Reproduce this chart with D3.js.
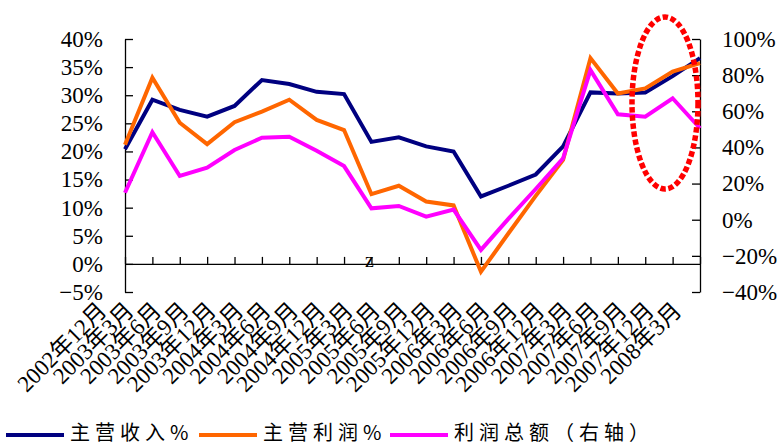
<!DOCTYPE html>
<html>
<head>
<meta charset="utf-8">
<script src="https://cdn.jsdelivr.net/npm/d3@7"></script>
<style>
  body { margin: 0; background: #fff; }
  svg { display: block; }
</style>
</head>
<body>
<svg id="chart" width="779" height="445"></svg>
<script>
// Quarter labels
const categories = [
  "2002年12月", "2003年3月", "2003年6月", "2003年9月", "2003年12月",
  "2004年3月", "2004年6月", "2004年9月", "2004年12月",
  "2005年3月", "2005年6月", "2005年9月", "2005年12月",
  "2006年3月", "2006年6月", "2006年9月", "2006年12月",
  "2007年3月", "2007年6月", "2007年9月", "2007年12月", "2008年3月"
];

// 主营收入 growth, % (left axis)
const revenue = [20.4, 29.2, 27.4, 26.2, 28.1, 32.7, 32.0, 30.6, 30.2, 21.7, 22.5,
                 20.9, 20.0, 12.0, 13.9, 15.9, 20.9, 30.5, 30.3, 30.5, 33.4, 36.6];

// 主营利润 growth, % (left axis)
const profit = [21.2, 33.1, 25.1, 21.3, 25.2, 27.1, 29.2, 25.6, 23.8, 12.4, 13.9,
                11.1, 10.4, -1.4, 5.4, 12.1, 18.5, 36.6, 30.3, 31.2, 34.2, 35.7];

// 利润总额 growth, % (right axis)
const totalProfit = [14.9, 48.4, 24.2, 28.8, 38.6, 45.4, 45.9, 38.2, 29.7, 6.3, 7.6,
                     1.7, 5.6, -16.7, 0.5, 17.0, 34.0, 82.8, 58.3, 57.0, 67.2, 50.6];

const leftTicks = [-5, 0, 5, 10, 15, 20, 25, 30, 35, 40];
const rightTicks = [-40, -20, 0, 20, 40, 60, 80, 100];
const seriesNames = ["主营收入%", "主营利润%", "利润总额（右轴）"];

// ---- layout ----
const svg = d3.select("#chart");
const plot = { left: 125, right: 700, top: 39, bottom: 292 };
const serif = "'Liberation Serif', 'Times New Roman', 'Noto Sans CJK SC', serif";
const cjk = "'Noto Sans CJK SC', sans-serif";
const colors = ["#000080", "#ff6600", "#ff00ff"];

const x = d3.scalePoint().domain(categories).range([plot.left, plot.right]);
const yL = d3.scaleLinear().domain([-5, 40]).range([plot.bottom, plot.top]);
const yR = d3.scaleLinear().domain([-40, 100]).range([plot.bottom, plot.top]);

const pct = v => (v < 0 ? "\u2212" : "") + Math.abs(v) + "%";

// left value axis
const gL = svg.append("g")
  .attr("transform", `translate(${plot.left},0)`)
  .call(d3.axisLeft(yL).tickValues(leftTicks).tickFormat(pct)
    .tickSizeInner(-8).tickSizeOuter(0).tickPadding(22));

// right value axis
const gR = svg.append("g")
  .attr("transform", `translate(${plot.right},0)`)
  .call(d3.axisRight(yR).tickValues(rightTicks).tickFormat(pct)
    .tickSizeInner(-8).tickSizeOuter(0).tickPadding(22));

[gL, gR].forEach(g => {
  g.selectAll("path.domain").attr("stroke", "#000").attr("stroke-width", 1.3);
  g.selectAll(".tick line").attr("stroke", "#000").attr("stroke-width", 1.3);
  g.selectAll(".tick text")
    .attr("font-family", serif).attr("font-size", 23).attr("fill", "#000");
});

// category axis crossing at 0
const gX = svg.append("g")
  .attr("transform", `translate(0,${yL(0)})`)
  .call(d3.axisBottom(x).tickSizeInner(-7).tickSizeOuter(0).tickFormat(""));
gX.selectAll("path.domain").attr("stroke", "#000").attr("stroke-width", 1.3);
gX.selectAll(".tick line").attr("stroke", "#000").attr("stroke-width", 1.3);

// stray axis mark
svg.append("text")
  .attr("x", x(categories[9]) - 2).attr("y", yL(0) + 3)
  .attr("text-anchor", "middle")
  .attr("font-family", serif).attr("font-size", 20)
  .text("z");

// rotated category labels below the plot
svg.append("g").selectAll("text")
  .data(categories)
  .join("text")
  .attr("transform", d => `translate(${x(d) - 17},${plot.bottom + 20}) rotate(-45)`)
  .attr("text-anchor", "end")
  .attr("font-family", serif)
  .attr("font-size", 23)
  .text(d => d);

// series lines
const series = [
  { values: revenue, y: yL },
  { values: profit, y: yL },
  { values: totalProfit, y: yR }
];
const lineGroup = svg.append("g");
series.forEach((s, k) => {
  const line = d3.line()
    .x((d, i) => x(categories[i]))
    .y(d => s.y(d));
  lineGroup.append("path")
    .datum(s.values)
    .attr("d", line)
    .attr("fill", "none")
    .attr("stroke", colors[k])
    .attr("stroke-width", 4)
    .attr("stroke-linejoin", "miter");
});

// dotted highlight ring around the latest quarters
svg.append("ellipse")
  .attr("cx", 665).attr("cy", 103)
  .attr("rx", 33).attr("ry", 86)
  .attr("fill", "none")
  .attr("stroke", "#ff0000")
  .attr("stroke-width", 5.5)
  .attr("stroke-dasharray", "5.5 2.6");

// legend
const legendX = [6, 199, 390];
const legend = svg.append("g");
seriesNames.forEach((name, k) => {
  const g = legend.append("g").attr("transform", `translate(${legendX[k]},435)`);
  g.append("line")
    .attr("x1", 0).attr("x2", 58).attr("y1", 0).attr("y2", 0)
    .attr("stroke", colors[k]).attr("stroke-width", 4);
  g.append("text")
    .attr("x", 64).attr("y", 5)
    .attr("font-family", cjk).attr("font-size", 20)
    .attr("letter-spacing", 5)
    .text(name);
});
</script>
</body>
</html>
